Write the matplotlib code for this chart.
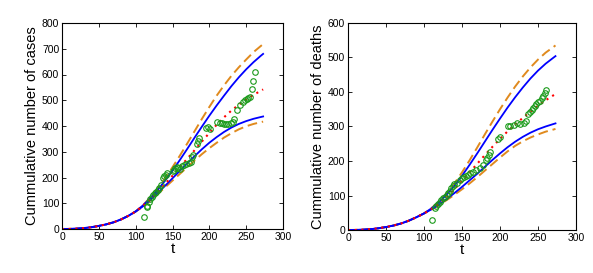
import numpy as np
import matplotlib.pyplot as plt

plt.rcParams['font.family'] = ['Liberation Sans', 'DejaVu Sans']

# model curves
t_curve = [0, 10, 20, 30, 40, 50, 60, 70, 80, 90, 100, 110, 120, 130, 140, 150, 160,
           170, 180, 190, 200, 210, 220, 230, 240, 250, 260, 270, 273]

# cases
cases_red = [0, 0.3, 1.5, 3.5, 7, 12, 18, 26, 37, 51, 68, 90, 116, 144, 175, 207, 240,
             273, 306, 340, 373, 405, 434, 460, 483, 503, 521, 537, 542]
cases_blue_hi = [0, 0.3, 1.5, 3.5, 7, 12, 18, 26, 37, 51, 68, 92, 120, 152, 188, 227, 268,
                 311, 355, 398, 440, 480, 518, 555, 589, 620, 648, 673, 680]
cases_dash_hi = [0, 0.3, 1.5, 3.5, 7, 12, 18, 26, 37, 51, 68, 93, 123, 158, 197, 240, 285,
                 332, 380, 428, 474, 518, 558, 595, 628, 658, 687, 711, 718]
cases_blue_lo = [0, 0.3, 1.5, 3.5, 7, 12, 18, 26, 37, 51, 68, 88, 113, 140, 168, 197, 226,
                 255, 283, 310, 335, 357, 377, 394, 408, 419, 428, 435, 437]
cases_dash_lo = [0, 0.3, 1.5, 3.5, 7, 12, 18, 26, 37, 51, 68, 87, 111, 136, 162, 188, 214,
                 240, 266, 291, 314, 335, 355, 372, 387, 399, 408, 415, 417]

# deaths
deaths_red = [0, 0.2, 1, 2.5, 5, 8.5, 13, 19, 27, 37, 48, 61, 77, 96, 118, 142, 167,
              192, 217, 241, 264, 286, 306, 325, 343, 360, 376, 390, 394]
deaths_blue_hi = [0, 0.2, 1, 2.5, 5, 8.5, 13, 19, 27, 37, 48, 63, 81, 103, 128, 157, 189,
                  222, 256, 290, 323, 355, 385, 413, 439, 462, 482, 499, 504]
deaths_dash_hi = [0, 0.2, 1, 2.5, 5, 8.5, 13, 19, 27, 37, 48, 64, 83, 107, 135, 167, 202,
                  239, 277, 314, 350, 384, 416, 445, 471, 494, 514, 530, 535]
deaths_blue_lo = [0, 0.2, 1, 2.5, 5, 8.5, 13, 19, 27, 37, 48, 60, 74, 90, 107, 125, 144,
                  163, 183, 203, 222, 240, 256, 270, 282, 292, 300, 307, 309]
deaths_dash_lo = [0, 0.2, 1, 2.5, 5, 8.5, 13, 19, 27, 37, 48, 59, 72, 87, 102, 118, 135,
                  153, 172, 191, 210, 228, 244, 257, 268, 277, 285, 291, 293]

# observed data (green circles)
cases_t = [111, 115, 116, 118, 120, 122, 124, 126, 128, 130, 132, 135, 137, 139, 141,
           143, 150, 152, 154, 156, 158, 160, 163, 166, 169, 172, 175, 177, 178, 183,
           185, 186, 196, 198, 201, 211, 214, 217, 220, 223, 226, 229, 232, 234, 238,
           242, 246, 249, 251, 253, 255, 258, 259, 262]
cases_v = [48, 85, 90, 105, 115, 125, 132, 140, 145, 150, 158, 170, 197, 205, 210,
           218, 225, 229, 236, 240, 238, 232, 245, 248, 252, 256, 262, 278, 288, 330,
           343, 352, 393, 397, 390, 414, 412, 410, 408, 406, 408, 410, 415, 427, 462,
           482, 494, 500, 505, 508, 514, 545, 576, 608]

deaths_t = [110, 114, 116, 118, 121, 123, 125, 128, 130, 132, 134, 136, 138, 140, 143,
            147, 150, 152, 155, 158, 161, 165, 169, 174, 177, 182, 183, 185, 187, 197,
            200, 210, 213, 218, 222, 226, 231, 234, 237, 240, 242, 244, 246, 248, 250,
            253, 255, 257, 259, 261]
deaths_v = [29, 63, 70, 76, 82, 87, 92, 97, 102, 106, 112, 121, 127, 132, 137,
            145, 150, 155, 156, 158, 164, 169, 174, 179, 188, 203, 208, 217, 227, 263,
            270, 301, 301, 304, 309, 307, 311, 317, 336, 341, 348, 353, 359, 365, 370,
            375, 382, 388, 396, 406]

blue = '#0000ff'
orange = '#e08a1e'
red = '#ff0000'
green = '#1a9a1a'

fig = plt.figure(figsize=(5.93, 2.73), dpi=100)
ax1 = fig.add_axes([62/593, 44/273, 221/593, 206/273])
ax2 = fig.add_axes([348/593, 43/273, 228/593, 207/273])

panels = [
    (ax1, cases_red, cases_blue_hi, cases_blue_lo, cases_dash_hi, cases_dash_lo,
     cases_t, cases_v, 800, 'Cummulative number of cases'),
    (ax2, deaths_red, deaths_blue_hi, deaths_blue_lo, deaths_dash_hi, deaths_dash_lo,
     deaths_t, deaths_v, 600, 'Cummulative number of deaths'),
]

for ax, r, bh, bl, dh, dl, ot, ov, ymax, lab in panels:
    ax.plot(t_curve, dh, color=orange, lw=1.4, ls=(0, (5, 2.5)))
    ax.plot(t_curve, dl, color=orange, lw=1.4, ls=(0, (5, 2.5)))
    ax.plot(t_curve, bh, color=blue, lw=1.3)
    ax.plot(t_curve, bl, color=blue, lw=1.3)
    ax.plot(t_curve, r, color=red, lw=1.5, ls=(0, (1, 2.2)))
    ax.plot(ot, ov, 'o', mfc='none', mec=green, ms=4, mew=0.8)
    ax.set_xlim(0, 300)
    ax.set_ylim(0, ymax)
    ax.set_xticks(range(0, 301, 50))
    ax.set_yticks(range(0, ymax + 1, 100))
    ax.tick_params(direction='in', top=True, right=True, labelsize=7.5,
                   length=3, width=0.6, pad=2)
    for s in ax.spines.values():
        s.set_linewidth(0.8)
    ax.set_xlabel('t', fontsize=11, labelpad=0)
    ax.set_ylabel(lab, fontsize=10.5, labelpad=2)

fig.savefig('out.png', dpi=100)
